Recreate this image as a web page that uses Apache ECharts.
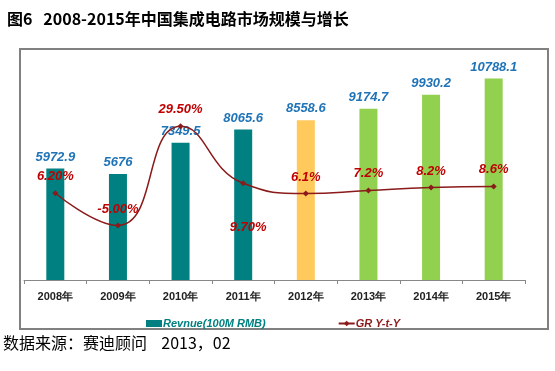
<!DOCTYPE html>
<html><head><meta charset="utf-8">
<script src="https://cdn.jsdelivr.net/npm/echarts@6/dist/echarts.min.js"></script>
<style>html,body{margin:0;padding:0;background:#fff}#c{width:555px;height:371px}</style>
</head><body><div id="c"></div>
<script>
var categories = ['2008年','2009年','2010年','2011年','2012年','2013年','2014年','2015年'];
var revenue = [5972.9, 5676, 7349.5, 8065.6, 8558.6, 9174.7, 9930.2, 10788.1];
var growth = [6.2, -5.0, 29.5, 9.7, 6.1, 7.2, 8.2, 8.6];
var growthLabels = ['6.20%','-5.00%','29.50%','9.70%','6.1%','7.2%','8.2%','8.6%'];
var barColors = ['#008080','#008080','#008080','#008080','#FFC95C','#92D050','#92D050','#92D050'];

var chart = echarts.init(document.getElementById('c'));
var font = '"Liberation Sans", Arial, sans-serif';
chart.setOption({
  animation: false,
  backgroundColor: '#fff',
  title: {
    text: '图6   2008-2015年中国集成电路市场规模与增长',
    left: 2, top: 6,
    textStyle: {fontSize: 16, fontWeight: 'bold', color: '#000', fontFamily: '"Noto Sans CJK SC", sans-serif'}
  },
  graphic: [
    {type: 'rect', shape: {x: 20, y: 49, width: 528, height: 280}, style: {fill: 'none', stroke: '#808080', lineWidth: 2}, z: 0},
    {type: 'text', left: 3, top: 335, style: {text: '数据来源：赛迪顾问    2013，02', fontSize: 16, fill: '#000', fontFamily: '"Noto Sans CJK SC", sans-serif'}}
  ],
  legend: {
    left: 141, top: 313, itemGap: 72, itemWidth: 16, itemHeight: 7,
    data: [
      {name: 'Revnue(100M RMB)', icon: 'rect', textStyle: {color: '#008080'}},
      {name: 'GR Y-t-Y', textStyle: {color: '#8B1A1A'}}
    ],
    textStyle: {fontSize: 11, fontWeight: 'bold', fontStyle: 'italic', fontFamily: font, padding: [0,0,0,-4]}
  },
  grid: {left: 24, right: 30, top: 56, bottom: 91},
  xAxis: {
    type: 'category', data: categories,
    axisLine: {lineStyle: {color: '#888', width: 1}},
    axisTick: {show: true, length: 4, lineStyle: {color: '#888'}},
    axisLabel: {fontSize: 11, fontWeight: 'bold', color: '#222', margin: 11, fontFamily: font}
  },
  yAxis: [
    {type: 'value', min: 0, max: 12000, show: false, splitLine: {show: false}},
    {type: 'value', min: -24, max: 54, show: false, splitLine: {show: false}}
  ],
  series: [
    {
      name: 'Revnue(100M RMB)', type: 'bar', barWidth: 18,
      data: revenue.map(function(v, i){ return {value: v, itemStyle: {color: barColors[i]}}; }),
      itemStyle: {color: '#008080'},
      label: {show: true, position: 'top', distance: 5, color: '#1F73B7', fontSize: 13, fontWeight: 'bold', fontStyle: 'italic', fontFamily: font},
      z: 2
    },
    {
      name: 'GR Y-t-Y', type: 'line', yAxisIndex: 1, smooth: 0.5,
      data: growth.map(function(v, i){
        var d = {value: v};
        if (i === 3) d.label = {position: 'bottom', distance: 35, offset: [5, 0]};
        return d;
      }),
      symbol: 'diamond', symbolSize: 6,
      lineStyle: {color: '#8B1A1A', width: 1.5},
      itemStyle: {color: '#8B1A1A'},
      label: {show: true, position: 'top', distance: 7, color: '#C00000', fontSize: 13, fontWeight: 'bold', fontStyle: 'italic', fontFamily: font,
        formatter: function(p){ return growthLabels[p.dataIndex]; }},
      z: 3
    }
  ]
});
</script></body></html>
